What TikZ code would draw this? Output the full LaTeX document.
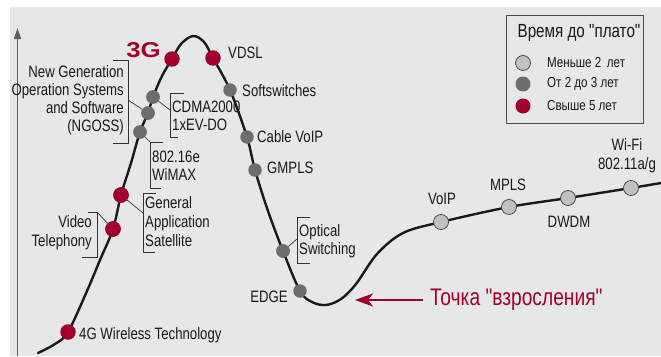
\documentclass[tikz,border=0pt]{standalone}
\usepackage{fontspec}
\usepackage{graphicx}
\setmainfont{Liberation Sans}[FakeStretch=0.8, Ligatures=TeXOff]
\newfontfamily\widefont{Liberation Sans}[FakeStretch=1.2, Ligatures=TeXOff]
\usetikzlibrary{arrows.meta}

\definecolor{panel}{RGB}{230,231,233}
\definecolor{crimson}{RGB}{162,0,42}
\definecolor{darkdotc}{RGB}{108,109,113}
\definecolor{lightdotc}{RGB}{192,193,196}
\definecolor{rim}{RGB}{75,75,78}
\definecolor{axisc}{RGB}{95,95,98}

\tikzset{
  lbl/.style={font=\fontsize{16.5}{18}\selectfont, inner sep=0pt, text=black!90},
  reddot/.style={circle, fill=crimson, minimum size=15.5pt, inner sep=0pt},
  darkdot/.style={circle, fill=darkdotc, minimum size=13.5pt, inner sep=0pt},
  lightdot/.style={circle, fill=lightdotc, draw=rim, line width=0.8pt, minimum size=15pt, inner sep=0pt},
  bracket/.style={draw=black!80, line width=0.7pt},
  curve/.style={draw=black!90, line width=2.4pt, line cap=round},
  legtext/.style={font=\fontsize{14.5}{16}\selectfont, inner sep=0pt, anchor=west, text=black!90},
}

\begin{document}
\begin{tikzpicture}[x=1pt,y=-1pt]
\useasboundingbox (0,0) rectangle (661,356);
\fill[panel] (10,7) rectangle (661,356);

% vertical axis
\coordinate (axbot) at (17.5,356);
\coordinate (axtop) at (17.5,28);
\draw[axisc, line width=1.5pt, -{Triangle[length=11pt,width=7pt]}] (axbot) -- (axtop);

% hype curve
\draw[curve] plot[smooth, tension=0.55] coordinates {
  (38,353) (55,344) (68,332) (87,291) (100,260) (113,229) (121,195)
  (131,163) (140,132) (148,113) (153,97) (162,76) (172,59) (181,44)
  (193,36) (204,42) (213,58) (230,90) (247,137) (255,170) (268,211)
  (283,251) (300,291) (312,302) (326,305) (341,299) (356,284) (377,254)
  (403,233) (441,222) (509,207) (568,198) (631,188) (661,183)};

% dots on the curve
\node[reddot]  (g4)    at (68,332)  {};
\node[reddot]  (video) at (113,229) {};
\node[reddot]  (gas)   at (121,195) {};
\node[reddot]  (g3)    at (172,59)  {};
\node[reddot]  (vdsl)  at (213,58)  {};
\node[darkdot] (wimax) at (140,132) {};
\node[darkdot] (ngoss) at (148,113) {};
\node[darkdot] (cdma)  at (153,97)  {};
\node[darkdot] (soft)  at (230,90)  {};
\node[darkdot] (cvoip) at (247,137) {};
\node[darkdot] (gmpls) at (255,170) {};
\node[darkdot] (optic) at (283,251) {};
\node[darkdot] (edge)  at (300,291) {};
\node[lightdot] (voip) at (441,222) {};
\node[lightdot] (mpls) at (509,207) {};
\node[lightdot] (dwdm) at (568,198) {};
\node[lightdot] (wifi) at (631,188) {};

% brackets and leader lines
\draw[bracket] (113,60) -- (128,60) -- (128,143) -- (113,143);
\coordinate (ngossLead) at (128,100);
\draw[bracket] (ngossLead) -- (ngoss);

\draw[bracket] (184,93) -- (170,93) -- (170,137) -- (178,137);
\coordinate (cdmaLead) at (170,110);
\draw[bracket] (cdmaLead) -- (cdma);

\draw[bracket] (163,142) -- (150,142) -- (150,188) -- (161,188);
\coordinate (wimaxLead) at (150,142);
\draw[bracket] (wimaxLead) -- (wimax);

\draw[bracket] (156,193) -- (143,193) -- (143,252) -- (155,252);
\coordinate (gasLead) at (143,213);
\draw[bracket] (gasLead) -- (gas);

\draw[bracket] (88,212) -- (97,212) -- (97,257) -- (82,257);
\coordinate (videoLead) at (97,212);
\draw[bracket] (videoLead) -- (video);

\draw[bracket] (310,217) -- (297,217) -- (297,263) -- (310,263);
\coordinate (opticLead) at (297,239);
\draw[bracket] (opticLead) -- (optic);

% redraw dots that leaders touch so they sit on top
\node[darkdot] at (ngoss) {};
\node[darkdot] at (cdma) {};
\node[darkdot] at (wimax) {};
\node[reddot] at (gas) {};
\node[reddot] at (video) {};
\node[darkdot] at (optic) {};

% labels
\node[inner sep=0pt, text=crimson, font=\widefont\bfseries\fontsize{21.5}{22}\selectfont] (t3g) at (143.5,50) {3G};
\node[lbl, anchor=west] (tvdsl) at (228,53) {VDSL};
\node[lbl, anchor=west] (tsoft) at (242,91) {Softswitches};
\node[lbl, anchor=west] (tcvoip) at (257,137) {Cable VoIP};
\node[lbl, anchor=west] (tgmpls) at (267,168) {GMPLS};
\node[lbl, anchor=east, align=right] (tngoss) at (124,100)
  {New Generation\\Operation Systems\\and Software\\(NGOSS)};
\node[lbl, anchor=west, align=left] (tcdma) at (172,116) {CDMA2000\\1xEV-DO};
\node[lbl, anchor=west, align=left] (twimax) at (152,166) {802.16e\\WiMAX};
\node[lbl, anchor=west, align=left, font=\fontsize{16.5}{19}\selectfont] (tgas) at (145,222)
  {General\\Application\\Satellite};
\node[lbl, anchor=east, align=right, font=\fontsize{16.5}{19}\selectfont] (tvideo) at (92,232.5)
  {Video\\Telephony};
\node[lbl, anchor=west] (t4g) at (79,335) {4G Wireless Technology};
\node[lbl, anchor=west, align=left] (toptic) at (299,241) {Optical\\Switching};
\node[lbl, anchor=east] (tedge) at (288,297) {EDGE};
\node[lbl] (tvoip) at (442,199) {VoIP};
\node[lbl] (tmpls) at (508,185) {MPLS};
\node[lbl] (tdwdm) at (569,222) {DWDM};
\node[lbl, align=center, font=\fontsize{16.5}{19}\selectfont] (twifi) at (627,155.5) {Wi-Fi\\802.11a/g};

% maturity point
\node[inner sep=0pt, anchor=west, text=crimson, font=\fontsize{24}{26}\selectfont] (tmature) at (430,300)
  {Точка "взросления"};
\coordinate (matureTip) at (355,300);
\draw[crimson, line width=2.4pt, -{Stealth[length=18pt,width=13pt,inset=5pt]}]
  (tmature.west) ++(-7,0) -- (matureTip);

% legend
\node[draw=rim, line width=0.9pt, fill=panel, minimum width=137pt, minimum height=108pt, inner sep=0pt]
  (legend) at (574.5,69) {};
\node[inner sep=0pt, font=\fontsize{19}{20}\selectfont, text=black!90] (legtitle) at (579,33) {Время до "плато"};
\node[lightdot] (lg1) at (523,63) {};
\node[darkdot, minimum size=15pt] (lg2) at (523,84) {};
\node[reddot, minimum size=15pt] (lg3) at (523,106) {};
\node[legtext] (lt1) at (547,63) {Меньше 2 \,лет};
\node[legtext] (lt2) at (547,84) {От 2 до 3 лет};
\node[legtext] (lt3) at (547,106) {Свыше 5 лет};
\end{tikzpicture}
\end{document}
